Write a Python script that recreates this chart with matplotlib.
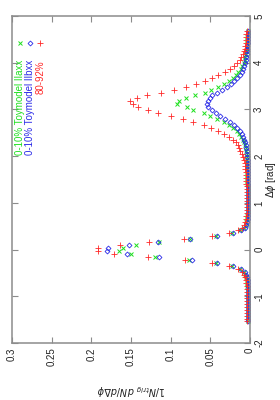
import numpy as np
import matplotlib
matplotlib.use("Agg")
import matplotlib.pyplot as plt

plt.rcParams["font.family"] = ["Liberation Sans", "DejaVu Sans"]
plt.rcParams["axes.unicode_minus"] = False

# =========================
# Data: 100 bins in dphi from -pi/2 to 3pi/2
# =========================
n_bins = 100
dphi = np.linspace(-np.pi / 2 + np.pi / n_bins, 3 * np.pi / 2 - np.pi / n_bins, n_bins)

central_a = [  # 0-10% Toymodel IIaxx (green)
    0.0031, 0.0031, 0.0030, 0.0030, 0.0029, 0.0029, 0.0028, 0.0028, 0.0028, 0.0028,
    0.0029, 0.0030, 0.0032, 0.0035, 0.0040, 0.0047, 0.0058, 0.0078, 0.0125, 0.023,
    0.043, 0.077, 0.1196, 0.150, 0.165,
    0.160, 0.1436, 0.1146, 0.076, 0.043, 0.023, 0.0122, 0.0076, 0.0056, 0.0045,
    0.0038, 0.0034, 0.0031, 0.0029, 0.0028, 0.0027, 0.0027, 0.0027, 0.0028, 0.0029,
    0.0030, 0.0031, 0.0032, 0.0033, 0.0034,
    0.0035, 0.0035, 0.0035, 0.0036, 0.0037, 0.0038, 0.0040, 0.0043, 0.0048, 0.0055,
    0.0064, 0.0076, 0.0092, 0.0112, 0.0138, 0.017, 0.021, 0.026, 0.033, 0.041,
    0.050, 0.058, 0.072, 0.080, 0.092,
    0.090, 0.081, 0.069, 0.057, 0.049, 0.040, 0.033, 0.027, 0.022, 0.018,
    0.0145, 0.0118, 0.0096, 0.0080, 0.0068, 0.0058, 0.0050, 0.0045, 0.0040, 0.0037,
    0.0035, 0.0033, 0.0032, 0.0031, 0.0031,
]

central_b = [  # 0-10% Toymodel IIbxx (blue)
    0.0024, 0.0024, 0.0023, 0.0023, 0.0022, 0.0022, 0.0021, 0.0021, 0.0021, 0.0021,
    0.0022, 0.0023, 0.0024, 0.0027, 0.0031, 0.0037, 0.0048, 0.0068, 0.011, 0.021,
    0.042, 0.0735, 0.1146, 0.155, 0.180,
    0.1785, 0.153, 0.1155, 0.0756, 0.042, 0.0218, 0.0112, 0.0069, 0.0049, 0.0038,
    0.0031, 0.0027, 0.0024, 0.0022, 0.0021, 0.0021, 0.0021, 0.0021, 0.0022, 0.0022,
    0.0023, 0.0024, 0.0025, 0.0026, 0.0027,
    0.0028, 0.0028, 0.0028, 0.0029, 0.0030, 0.0031, 0.0033, 0.0036, 0.0040, 0.0045,
    0.0051, 0.0059, 0.0070, 0.0085, 0.0104, 0.0130, 0.0165, 0.020, 0.0255, 0.0315,
    0.0378, 0.0432, 0.0482, 0.0525, 0.0545,
    0.0533, 0.0504, 0.0475, 0.042, 0.0356, 0.0293, 0.024, 0.020, 0.0165, 0.0128,
    0.0105, 0.0088, 0.0075, 0.0064, 0.0056, 0.0049, 0.0043, 0.0038, 0.0035, 0.0032,
    0.0030, 0.0028, 0.0027, 0.0026, 0.0025,
]

peripheral = [  # 80-92% (red)
    0.0044, 0.0043, 0.0042, 0.0041, 0.0040, 0.0039, 0.0038, 0.0037, 0.0037, 0.0038,
    0.0039, 0.0041, 0.0044, 0.0048, 0.0054, 0.0062, 0.0075, 0.0098, 0.0150, 0.027,
    0.048, 0.082, 0.129, 0.171, 0.192,
    0.191, 0.164, 0.127, 0.083, 0.048, 0.027, 0.0147, 0.0095, 0.0073, 0.0060,
    0.0052, 0.0046, 0.0042, 0.0039, 0.0037, 0.0036, 0.0036, 0.0037, 0.0038, 0.0040,
    0.0042, 0.0044, 0.0046, 0.0048, 0.0050,
    0.0051, 0.0053, 0.0057, 0.0062, 0.0068, 0.0078, 0.0090, 0.0105, 0.0122, 0.0135,
    0.0150, 0.018, 0.022, 0.027, 0.033, 0.040, 0.049, 0.058, 0.0714, 0.084,
    0.0995, 0.1155, 0.128, 0.1415, 0.147,
    0.151, 0.143, 0.130, 0.112, 0.0953, 0.0806, 0.0684, 0.0567, 0.048, 0.0405,
    0.0320, 0.0255, 0.020, 0.0160, 0.0130, 0.0108, 0.0088, 0.0075, 0.0065, 0.0057,
    0.0052, 0.0048, 0.0046, 0.0045, 0.0044,
]

labels = ["0-10% Toymodel IIaxx", "0-10% Toymodel IIbxx", "80-92%"]
colors = ["#1ee01e", "#2a2ae8", "#ff2a2a"]

xtick_vals = [0.3, 0.25, 0.2, 0.15, 0.1, 0.05, 0]
xtick_labels = ["0.3", "0.25", "0.2", "0.15", "0.1", "0.05", "0"]
ytick_vals = [-2, -1, 0, 1, 2, 3, 4, 5]
ytick_labels = ["-2", "-1", "0", "1", "2", "3", "4", "5"]

# =========================
# Plot (page is rotated: dphi runs up, yield runs right-to-left)
# =========================
fig = plt.figure(figsize=(2.8, 4.0), dpi=100)
ax = fig.add_axes([12 / 280, 1 - 343 / 400, 238 / 280, 327 / 400])

styles = [
    dict(marker="x", ms=3.0, mew=0.7),
    dict(marker="D", ms=2.5, mew=0.6, mfc="none"),
    dict(marker="+", ms=3.8, mew=0.6),
]
series = [central_a, central_b, peripheral]

for vals, col, st in zip(series, colors, styles):
    ax.plot(vals, dphi, linestyle="none", color=col, **st)

ax.set_xlim(0.3, 0)
ax.set_ylim(-2, 5)

ax.set_xticks(xtick_vals)
ax.set_xticklabels(xtick_labels, rotation=90)
ax.set_yticks(ytick_vals)
ax.set_yticklabels(ytick_labels, rotation=90, va="center")

ax.tick_params(direction="in", length=4, width=0.8, color="#8c8c8c",
               top=True, bottom=True, left=True, right=True,
               labelleft=False, labelright=True,
               labelsize=7, labelcolor="#222222", pad=3)
for sp in ax.spines.values():
    sp.set_color("#8c8c8c")
    sp.set_linewidth(1.1)

ax.set_xlabel(r"$1/N_{trig}\ dN/d\Delta\phi$", rotation=180, fontsize=7,
              color="#222222", va="center")
ax.xaxis.set_label_coords(0.5, -0.14)
ax.yaxis.set_label_position("right")
ax.set_ylabel(r"$\Delta\phi$ [rad]", rotation=90, fontsize=7, color="#222222", va="center")
ax.yaxis.set_label_coords(1.088, 0.5)

# key (rotated with the page)
key_x = [0.034, 0.076, 0.119]
for lab, col, st, kx in zip(labels, colors, styles, key_x):
    ax.plot([kx], [0.917], transform=ax.transAxes, linestyle="none",
            color=col, clip_on=False, **st)
    ax.text(kx, 0.865, lab, transform=ax.transAxes, rotation=90,
            ha="center", va="top", fontsize=7, color=col)

fig.savefig("out.png", dpi=100)
